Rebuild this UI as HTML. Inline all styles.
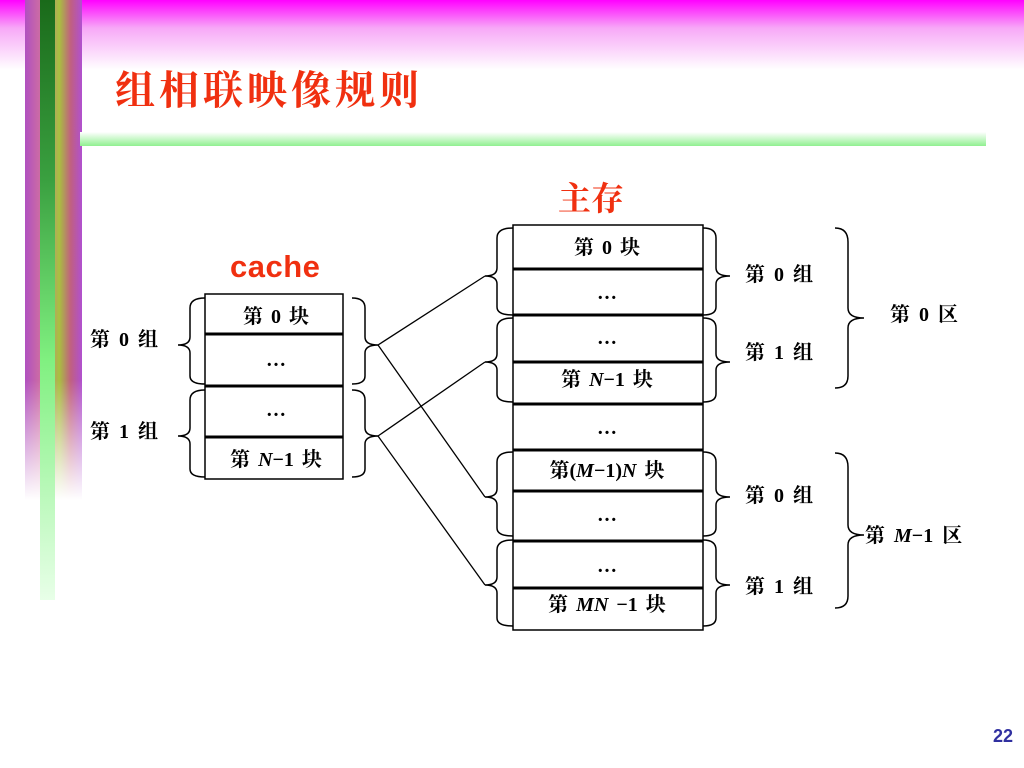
<!DOCTYPE html>
<html><head><meta charset="utf-8"><style>
body{margin:0;width:1024px;height:768px;overflow:hidden;background:#fff;position:relative}
.top{position:absolute;left:0;top:0;width:1024px;height:70px;background:linear-gradient(#f0f 0%,#f7a8f7 40%,#fff 100%)}
.strip{position:absolute;left:25px;top:0;width:57px;height:500px;background:linear-gradient(90deg,#b050c0,#d070a0 30%,#a8c040 60%,#c06080 80%,#b050d0)}
.strip2{position:absolute;left:25px;top:380px;width:57px;height:120px;background:linear-gradient(#fff0,#fff)}
.gbar{position:absolute;left:40px;top:0;width:15px;height:600px;background:linear-gradient(#1a6a1a,#3aa040 30%,#80f080 60%,#e8ffe8)}
.hline{position:absolute;left:80px;top:132px;width:906px;height:14px;background:linear-gradient(#fff,#90f090)}
</style></head><body>
<div class="top"></div><div class="strip"></div><div class="strip2"></div><div class="gbar"></div><div class="hline"></div>
<svg width="1024" height="768" style="position:absolute;left:0;top:0" font-family="'Liberation Serif','Noto Serif CJK SC',serif" font-weight="bold">
<text x="115" y="104" font-size="40" fill="#f03010" font-family="'Noto Serif CJK SC',serif" font-weight="bold" letter-spacing="4">组相联映像规则</text>
<text x="558" y="210" font-size="33" fill="#f03010" font-family="'Noto Serif CJK SC',serif">主存</text>
<text x="230" y="277" font-size="31" fill="#f03010" font-family="'Liberation Sans',sans-serif" letter-spacing="0.5">cache</text>
<g fill="none" stroke="#000" stroke-width="1.5">
<rect x="205" y="294" width="138" height="185"/>
<rect x="513" y="225" width="190" height="405"/>
</g>
<g stroke="#000" stroke-width="3">
<line x1="205" y1="334" x2="343" y2="334"/><line x1="205" y1="386" x2="343" y2="386"/><line x1="205" y1="437" x2="343" y2="437"/>
<line x1="513" y1="269" x2="703" y2="269"/><line x1="513" y1="315" x2="703" y2="315"/><line x1="513" y1="362" x2="703" y2="362"/><line x1="513" y1="404" x2="703" y2="404"/><line x1="513" y1="450" x2="703" y2="450"/><line x1="513" y1="491" x2="703" y2="491"/><line x1="513" y1="541" x2="703" y2="541"/><line x1="513" y1="588" x2="703" y2="588"/>
</g>
<g fill="none" stroke="#000" stroke-width="1.5">
<path d="M205,298 Q190,298 190,308 L190,337 Q190,345 178,345 Q190,345 190,353 L190,376 Q190,384 205,384"/>
<path d="M205,390 Q190,390 190,400 L190,428 Q190,436 178,436 Q190,436 190,444 L190,469 Q190,477 205,477"/>
<path d="M352,298 Q365,298 365,308 L365,337 Q365,345 378,345 Q365,345 365,353 L365,376 Q365,384 352,384"/>
<path d="M352,390 Q365,390 365,400 L365,428 Q365,436 378,436 Q365,436 365,444 L365,469 Q365,477 352,477"/>
<path d="M513,228 Q497,228 497,238 L497,268 Q497,276 485,276 Q497,276 497,284 L497,307 Q497,315 513,315"/>
<path d="M513,318 Q497,318 497,328 L497,354 Q497,362 485,362 Q497,362 497,370 L497,394 Q497,402 513,402"/>
<path d="M513,452 Q497,452 497,462 L497,489 Q497,497 485,497 Q497,497 497,505 L497,528 Q497,536 513,536"/>
<path d="M513,540 Q497,540 497,550 L497,577 Q497,585 485,585 Q497,585 497,593 L497,618 Q497,626 513,626"/>
<path d="M703,228 Q716,228 716,238 L716,268 Q716,276 730,276 Q716,276 716,284 L716,307 Q716,315 703,315"/>
<path d="M703,318 Q716,318 716,328 L716,354 Q716,362 730,362 Q716,362 716,370 L716,394 Q716,402 703,402"/>
<path d="M703,452 Q716,452 716,462 L716,489 Q716,497 730,497 Q716,497 716,505 L716,528 Q716,536 703,536"/>
<path d="M703,540 Q716,540 716,550 L716,577 Q716,585 730,585 Q716,585 716,593 L716,618 Q716,626 703,626"/>
<path d="M835,228 Q848,228 848,242 L848,308 Q848,318 864,318 Q848,318 848,328 L848,376 Q848,388 835,388"/>
<path d="M835,453 Q848,453 848,467 L848,525 Q848,535 864,535 Q848,535 848,545 L848,596 Q848,608 835,608"/>
</g>
<g stroke="#000" stroke-width="1.3">
<line x1="378" y1="345" x2="485" y2="276"/><line x1="378" y1="345" x2="485" y2="497"/>
<line x1="378" y1="436" x2="485" y2="362"/><line x1="378" y1="436" x2="485" y2="585"/>
</g>
<g font-size="20" text-anchor="middle" fill="#000" word-spacing="3">
<text x="276" y="323">第 0 块</text><text x="276" y="366">…</text><text x="276" y="416">…</text><text x="276" y="466">第 <tspan font-style="italic">N</tspan>−1 块</text>
<text x="607" y="254">第 0 块</text><text x="607" y="299">…</text><text x="607" y="344">…</text><text x="607" y="386">第 <tspan font-style="italic">N</tspan>−1 块</text>
<text x="607" y="434">…</text><text x="607" y="477">第(<tspan font-style="italic">M</tspan>−1)<tspan font-style="italic">N</tspan> 块</text><text x="607" y="521">…</text><text x="607" y="572">…</text><text x="607" y="611">第 <tspan font-style="italic">MN</tspan> −1 块</text>
</g>
<g font-size="20" fill="#000" word-spacing="4">
<text x="90" y="346">第 0 组</text><text x="90" y="438">第 1 组</text>
<text x="745" y="281">第 0 组</text><text x="745" y="359">第 1 组</text><text x="745" y="502">第 0 组</text><text x="745" y="593">第 1 组</text>
<text x="890" y="321">第 0 区</text><text x="865" y="542">第 <tspan font-style="italic">M</tspan>−1 区</text>
</g>
<text x="993" y="742" font-size="18" fill="#3030a0" font-family="'Liberation Sans',sans-serif">22</text>
</svg>
</body></html>
